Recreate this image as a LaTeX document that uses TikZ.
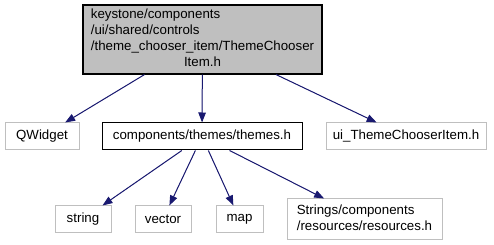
\documentclass[tikz,border=0pt]{standalone}
\usepackage{fontspec}
\setmainfont{Liberation Sans}
\usetikzlibrary{arrows.meta}
\definecolor{edgeblue}{HTML}{191970}
\definecolor{graybord}{HTML}{BFBFBF}
\definecolor{topfill}{HTML}{BFBFBF}
\tikzset{
  box/.style={rectangle, inner sep=0pt, font=\fontsize{13.3}{16}\selectfont, text=black, line width=1pt},
  graybox/.style={box, draw=graybord},
  blackbox/.style={box, draw=black},
  topbox/.style={box, draw=black, fill=topfill, line width=1.2pt},
  dep/.style={draw=edgeblue, line width=1pt, -{Triangle[length=10pt,width=7.5pt]}, fill=edgeblue},
}
\begin{document}
\begin{tikzpicture}[x=1pt,y=-1pt]
\useasboundingbox (0,0) rectangle (494,245);
\node[topbox, minimum width=239pt, minimum height=69pt] (top) at (202.5,39.5)
  {\begin{tabular}{@{}l@{}}keystone/components\\/ui/shared/controls\\/theme\_chooser\_item/ThemeChooser\\\multicolumn{1}{@{}c@{}}{Item.h}\end{tabular}};
\node[graybox, minimum width=74pt, minimum height=27pt] (qw) at (42,136.5) {QWidget};
\node[blackbox, minimum width=200pt, minimum height=27pt] (th) at (202,136.5) {components/themes/themes.h};
\node[graybox, minimum width=160pt, minimum height=27pt] (ui) at (406,136.5) {ui\_ThemeChooserItem.h};
\node[graybox, minimum width=56pt, minimum height=26pt] (str) at (83,219) {string};
\node[graybox, minimum width=56pt, minimum height=26pt] (vec) at (163,219) {vector};
\node[graybox, minimum width=47pt, minimum height=26pt] (map) at (239.5,219) {map};
\node[graybox, minimum width=155pt, minimum height=40pt] (res) at (364.5,219)
  {\begin{tabular}{@{}l@{}}Strings/components\\/resources/resources.h\end{tabular}};
\path[dep] (top) -- (qw);
\path[dep] (top) -- (th);
\path[dep] (top) -- (ui);
\path[dep] (th) -- (str);
\path[dep] (th) -- (vec);
\path[dep] (th) -- (map);
\path[dep] (th) -- (res);
\end{tikzpicture}
\end{document}
